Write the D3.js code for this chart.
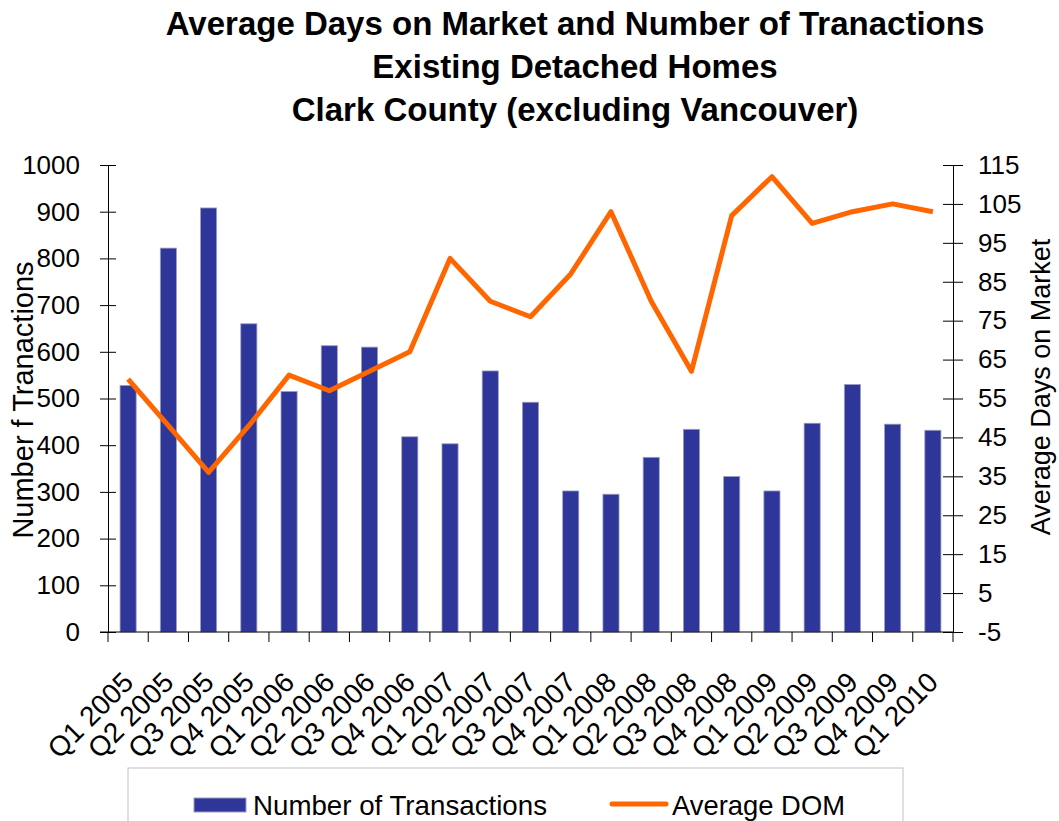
<!DOCTYPE html>
<html>
<head>
<meta charset="utf-8">
<script src="https://cdn.jsdelivr.net/npm/d3@7"></script>
<style>
  body { margin: 0; background: #fff; }
  text { font-family: "Liberation Sans", Arial, sans-serif; fill: #000; }
</style>
</head>
<body>
<svg id="chart" width="1059" height="821"></svg>
<script>
// quarters on the x axis
var quarters = ["Q1 2005","Q2 2005","Q3 2005","Q4 2005",
  "Q1 2006","Q2 2006","Q3 2006","Q4 2006",
  "Q1 2007","Q2 2007","Q3 2007","Q4 2007",
  "Q1 2008","Q2 2008","Q3 2008","Q4 2008",
  "Q1 2009","Q2 2009","Q3 2009","Q4 2009","Q1 2010"];

// number of transactions (left axis)
var transactions = [528, 822, 908, 660, 515, 613, 610, 418, 403, 559, 492,
  302, 295, 374, 434, 333, 302, 447, 530, 445, 432];

// average days on market (right axis)
var avgDOM = [60, 48, 36, 48, 61, 57, 62, 67, 91, 80, 76,
  87, 103, 80, 62, 102, 112, 100, 103, 105, 103];

var leftTicks = [0,100,200,300,400,500,600,700,800,900,1000];
var rightTicks = [-5,5,15,25,35,45,55,65,75,85,95,105,115];

var titleLines = ["Average Days on Market and Number of Tranactions",
  "Existing Detached Homes",
  "Clark County (excluding Vancouver)"];

function drawChart(){
	var svg = d3.select("#chart");

	var plotLeft = 108, plotRight = 953, plotTop = 165, plotBottom = 632;

	var x = d3.scaleBand()
		.domain(quarters)
		.range([plotLeft, plotRight])
		.paddingInner(0.6)
		.paddingOuter(0.3);

	var yL = d3.scaleLinear().domain([0, 1000]).range([plotBottom, plotTop]);
	var yR = d3.scaleLinear().domain([-5, 115]).range([plotBottom, plotTop]);

	//Title
	svg.append("g").selectAll("text")
		.data(titleLines)
		.enter().append("text")
		.attr("x", 575)
		.attr("y", (d,i) => 35 + i*43)
		.attr("text-anchor", "middle")
		.style("font-size", "33px")
		.style("font-weight", "bold")
		.text(d => d);

	//Bars
	svg.append("g").selectAll("rect")
		.data(transactions)
		.enter().append("rect")
		.attr("x", (d,i) => x(quarters[i]))
		.attr("y", d => yL(d))
		.attr("width", x.bandwidth())
		.attr("height", d => plotBottom - yL(d))
		.attr("fill", "#2e3699")
		.attr("stroke", "#9c9cc0")
		.attr("stroke-width", 0.8);

	//Line
	var line = d3.line()
		.x((d,i) => x(quarters[i]) + x.bandwidth()/2)
		.y(d => yR(d));

	svg.append("path")
		.datum(avgDOM)
		.attr("d", line)
		.attr("fill", "none")
		.attr("stroke", "#ff6600")
		.attr("stroke-width", 5)
		.attr("stroke-linejoin", "round");

	//Left axis
	var gL = svg.append("g")
		.attr("transform", "translate(" + plotLeft + ",0)")
		.call(d3.axisLeft(yL).tickValues(leftTicks).tickFormat(d => String(d)).tickSize(8).tickPadding(20));
	gL.selectAll(".tick line").attr("x1", 8).attr("stroke", "#000");
	gL.select(".domain").attr("stroke", "#000");
	gL.selectAll(".tick text").style("font-size", "26px").style("font-family", "Liberation Sans, Arial, sans-serif").attr("fill", "#000");

	//Right axis
	var gR = svg.append("g")
		.attr("transform", "translate(" + plotRight + ",0)")
		.call(d3.axisRight(yR).tickValues(rightTicks).tickFormat(d => String(d)).tickSize(10).tickPadding(15));
	gR.selectAll(".tick line").attr("x1", -10).attr("stroke", "#000");
	gR.select(".domain").attr("stroke", "#000");
	gR.selectAll(".tick text").style("font-size", "26px").style("font-family", "Liberation Sans, Arial, sans-serif").attr("fill", "#000");

	//Bottom axis
	svg.append("line")
		.attr("x1", 100).attr("x2", plotRight)
		.attr("y1", plotBottom).attr("y2", plotBottom)
		.attr("stroke", "#000");

	var bounds = quarters.map(q => x(q) + x.bandwidth()/2 - x.step()/2);
	bounds.push(plotRight);
	svg.append("g").selectAll("line")
		.data(bounds)
		.enter().append("line")
		.attr("x1", d => d).attr("x2", d => d)
		.attr("y1", plotBottom).attr("y2", plotBottom + 10)
		.attr("stroke", "#000");

	svg.append("g").selectAll("text")
		.data(quarters)
		.enter().append("text")
		.attr("transform", d => "translate(" + (x(d) + x.bandwidth()/2 + 7) + "," + 684 + ") rotate(-45)")
		.attr("text-anchor", "end")
		.style("font-size", "28px")
		.text(d => d);

	//Axis titles
	svg.append("text")
		.attr("transform", "translate(33,400) rotate(-90)")
		.attr("text-anchor", "middle")
		.style("font-size", "29px")
		.text("Number f Tranactions");

	svg.append("text")
		.attr("transform", "translate(1050,387) rotate(-90)")
		.attr("text-anchor", "middle")
		.style("font-size", "27px")
		.text("Average Days on Market");

	//Legend
	svg.append("rect")
		.attr("x", 128).attr("y", 768)
		.attr("width", 775).attr("height", 70)
		.attr("fill", "#fff")
		.attr("stroke", "#c0c0c0");

	svg.append("rect")
		.attr("x", 194).attr("y", 798)
		.attr("width", 52).attr("height", 14)
		.attr("fill", "#2e3699")
		.attr("stroke", "#9c9cc0");

	svg.append("text")
		.attr("x", 253).attr("y", 815)
		.style("font-size", "28px")
		.attr("textLength", 294)
		.attr("lengthAdjust", "spacingAndGlyphs")
		.text("Number of Transactions");

	svg.append("line")
		.attr("x1", 612).attr("x2", 666)
		.attr("y1", 804).attr("y2", 804)
		.attr("stroke", "#ff6600")
		.attr("stroke-width", 5)
		.attr("stroke-linecap", "round");

	svg.append("text")
		.attr("x", 672).attr("y", 815)
		.style("font-size", "28px")
		.attr("textLength", 173)
		.attr("lengthAdjust", "spacingAndGlyphs")
		.text("Average DOM");
}

drawChart();
</script>
</body>
</html>
